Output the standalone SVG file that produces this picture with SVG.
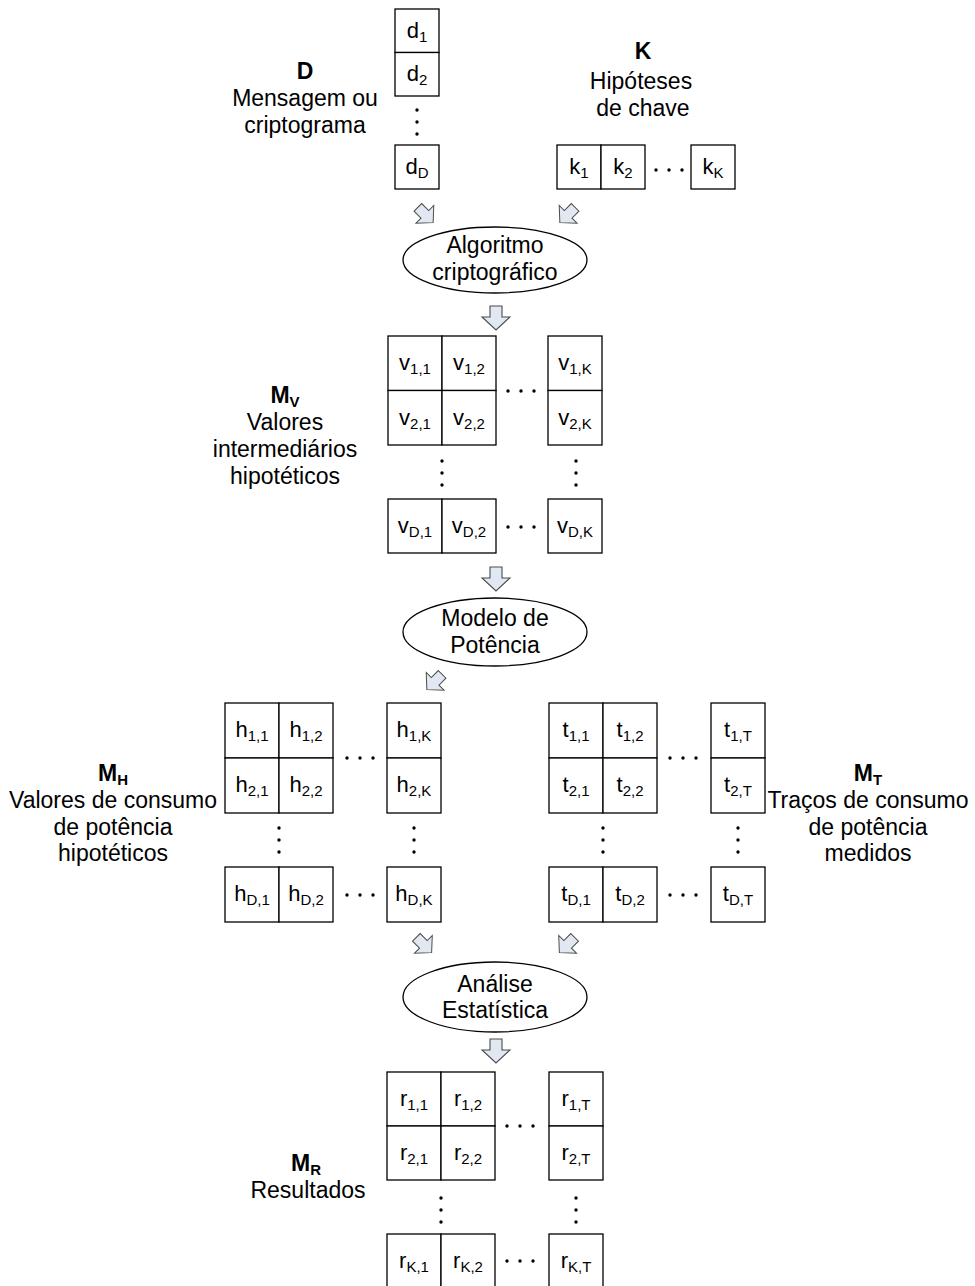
<svg xmlns="http://www.w3.org/2000/svg" width="975" height="1286" viewBox="0 0 975 1286">
<style>
text{font-family:"Liberation Sans",Arial,sans-serif;fill:#000}
.lbl{font-size:23px;text-anchor:middle}
.b{font-weight:bold}
.bs{font-weight:bold;font-size:15px}
.c{font-size:22px;text-anchor:middle}
.s{font-size:15px}
.box{fill:#fff;stroke:#000;stroke-width:1.3}
.ell{fill:#fff;stroke:#000;stroke-width:1.3}
.arr{fill:#e2e8f2;stroke:#4a4a4a;stroke-width:1.1;stroke-linejoin:miter}
.dot{fill:#000}
</style>
<defs>
<path id="ar" d="M-6,-12 H6 V-1 H14 L0,12 L-14,-1 H-6 Z"/>
<g id="vd"><circle cx="0" cy="-12" r="1.7"/><circle cx="0" cy="0" r="1.7"/><circle cx="0" cy="12" r="1.7"/></g>
<g id="hd"><circle cx="-13" cy="0" r="1.7"/><circle cx="0" cy="0" r="1.7"/><circle cx="13" cy="0" r="1.7"/></g>
</defs>

<g id="connectors">
<use href="#ar" class="arr" transform="translate(425.5,215) rotate(-45) scale(0.9)"/>
<use href="#ar" class="arr" transform="translate(567.5,215) rotate(45) scale(0.9)"/>
<use href="#ar" class="arr" transform="translate(496,318)"/>
<use href="#ar" class="arr" transform="translate(496,579)"/>
<use href="#ar" class="arr" transform="translate(434.5,682) rotate(45) scale(0.9)"/>
<use href="#ar" class="arr" transform="translate(424,945) rotate(-45) scale(0.9)"/>
<use href="#ar" class="arr" transform="translate(567,945) rotate(45) scale(0.9)"/>
<use href="#ar" class="arr" transform="translate(496,1051)"/>
</g>

<g id="D">
<text class="lbl b" x="305" y="79">D</text>
<text class="lbl" x="305" y="106">Mensagem ou</text>
<text class="lbl" x="305" y="133">criptograma</text>
<rect class="box" x="395" y="9" width="44" height="43.5"/>
<rect class="box" x="395" y="52.5" width="44" height="43.5"/>
<rect class="box" x="395" y="145" width="44" height="44"/>
<text class="c" x="417" y="38">d<tspan class="s" dy="4">1</tspan></text>
<text class="c" x="417" y="81">d<tspan class="s" dy="4">2</tspan></text>
<text class="c" x="417" y="174">d<tspan class="s" dy="4">D</tspan></text>
<use href="#vd" class="dot" x="417" y="122"/>
</g>

<g id="K">
<text class="lbl b" x="643" y="59">K</text>
<text class="lbl" x="641" y="89">Hipóteses</text>
<text class="lbl" x="643" y="116">de chave</text>
<rect class="box" x="557" y="145" width="44" height="44"/>
<rect class="box" x="601" y="145" width="44" height="44"/>
<rect class="box" x="691" y="145" width="44" height="44"/>
<text class="c" x="579" y="174">k<tspan class="s" dy="4">1</tspan></text>
<text class="c" x="623" y="174">k<tspan class="s" dy="4">2</tspan></text>
<text class="c" x="713" y="174">k<tspan class="s" dy="4">K</tspan></text>
<use href="#hd" class="dot" x="669" y="170"/>
</g>

<g id="alg">
<ellipse class="ell" cx="495" cy="260" rx="92" ry="33"/>
<text class="lbl" x="495" y="253">Algoritmo</text>
<text class="lbl" x="495" y="280">criptográfico</text>
</g>

<g id="MV">
<text class="lbl b" x="285" y="403">M<tspan class="bs" dy="4">V</tspan></text>
<text class="lbl" x="285" y="430">Valores</text>
<text class="lbl" x="285" y="457">intermediários</text>
<text class="lbl" x="285" y="484">hipotéticos</text>
<rect class="box" x="388" y="336" width="54" height="54.5"/>
<rect class="box" x="442" y="336" width="54" height="54.5"/>
<rect class="box" x="388" y="390.5" width="54" height="54.5"/>
<rect class="box" x="442" y="390.5" width="54" height="54.5"/>
<rect class="box" x="548" y="336" width="54" height="54.5"/>
<rect class="box" x="548" y="390.5" width="54" height="54.5"/>
<rect class="box" x="388" y="499" width="54" height="54"/>
<rect class="box" x="442" y="499" width="54" height="54"/>
<rect class="box" x="548" y="499" width="54" height="54"/>
<text class="c" x="415" y="370">v<tspan class="s" dy="4">1,1</tspan></text>
<text class="c" x="469" y="370">v<tspan class="s" dy="4">1,2</tspan></text>
<text class="c" x="575" y="370">v<tspan class="s" dy="4">1,K</tspan></text>
<text class="c" x="415" y="425">v<tspan class="s" dy="4">2,1</tspan></text>
<text class="c" x="469" y="425">v<tspan class="s" dy="4">2,2</tspan></text>
<text class="c" x="575" y="425">v<tspan class="s" dy="4">2,K</tspan></text>
<text class="c" x="415" y="533">v<tspan class="s" dy="4">D,1</tspan></text>
<text class="c" x="469" y="533">v<tspan class="s" dy="4">D,2</tspan></text>
<text class="c" x="575" y="533">v<tspan class="s" dy="4">D,K</tspan></text>
<use href="#hd" class="dot" x="521" y="391"/>
<use href="#hd" class="dot" x="521" y="527"/>
<use href="#vd" class="dot" x="442" y="473"/>
<use href="#vd" class="dot" x="576" y="473"/>
</g>

<g id="modelo">
<ellipse class="ell" cx="495" cy="632" rx="92" ry="34"/>
<text class="lbl" x="495" y="626">Modelo de</text>
<text class="lbl" x="495" y="653">Potência</text>
</g>

<g id="MH">
<text class="lbl b" x="113" y="781">M<tspan class="bs" dy="4">H</tspan></text>
<text class="lbl" x="113" y="808">Valores de consumo</text>
<text class="lbl" x="113" y="835">de potência</text>
<text class="lbl" x="113" y="861">hipotéticos</text>
<rect class="box" x="225" y="703" width="54" height="55"/>
<rect class="box" x="279" y="703" width="54" height="55"/>
<rect class="box" x="225" y="758" width="54" height="55"/>
<rect class="box" x="279" y="758" width="54" height="55"/>
<rect class="box" x="387" y="703" width="54" height="55"/>
<rect class="box" x="387" y="758" width="54" height="55"/>
<rect class="box" x="225" y="867" width="54" height="55"/>
<rect class="box" x="279" y="867" width="54" height="55"/>
<rect class="box" x="387" y="867" width="54" height="55"/>
<text class="c" x="252" y="737">h<tspan class="s" dy="4">1,1</tspan></text>
<text class="c" x="306" y="737">h<tspan class="s" dy="4">1,2</tspan></text>
<text class="c" x="414" y="737">h<tspan class="s" dy="4">1,K</tspan></text>
<text class="c" x="252" y="792">h<tspan class="s" dy="4">2,1</tspan></text>
<text class="c" x="306" y="792">h<tspan class="s" dy="4">2,2</tspan></text>
<text class="c" x="414" y="792">h<tspan class="s" dy="4">2,K</tspan></text>
<text class="c" x="252" y="901">h<tspan class="s" dy="4">D,1</tspan></text>
<text class="c" x="306" y="901">h<tspan class="s" dy="4">D,2</tspan></text>
<text class="c" x="414" y="901">h<tspan class="s" dy="4">D,K</tspan></text>
<use href="#hd" class="dot" x="360" y="758"/>
<use href="#hd" class="dot" x="360" y="895"/>
<use href="#vd" class="dot" x="279" y="840"/>
<use href="#vd" class="dot" x="414" y="840"/>
</g>

<g id="MT">
<text class="lbl b" x="868" y="781">M<tspan class="bs" dy="4">T</tspan></text>
<text class="lbl" x="868" y="808">Traços de consumo</text>
<text class="lbl" x="868" y="835">de potência</text>
<text class="lbl" x="868" y="861">medidos</text>
<rect class="box" x="549" y="703" width="54" height="55"/>
<rect class="box" x="603" y="703" width="54" height="55"/>
<rect class="box" x="549" y="758" width="54" height="55"/>
<rect class="box" x="603" y="758" width="54" height="55"/>
<rect class="box" x="711" y="703" width="54" height="55"/>
<rect class="box" x="711" y="758" width="54" height="55"/>
<rect class="box" x="549" y="867" width="54" height="55"/>
<rect class="box" x="603" y="867" width="54" height="55"/>
<rect class="box" x="711" y="867" width="54" height="55"/>
<text class="c" x="576" y="737">t<tspan class="s" dy="4">1,1</tspan></text>
<text class="c" x="630" y="737">t<tspan class="s" dy="4">1,2</tspan></text>
<text class="c" x="738" y="737">t<tspan class="s" dy="4">1,T</tspan></text>
<text class="c" x="576" y="792">t<tspan class="s" dy="4">2,1</tspan></text>
<text class="c" x="630" y="792">t<tspan class="s" dy="4">2,2</tspan></text>
<text class="c" x="738" y="792">t<tspan class="s" dy="4">2,T</tspan></text>
<text class="c" x="576" y="901">t<tspan class="s" dy="4">D,1</tspan></text>
<text class="c" x="630" y="901">t<tspan class="s" dy="4">D,2</tspan></text>
<text class="c" x="738" y="901">t<tspan class="s" dy="4">D,T</tspan></text>
<use href="#hd" class="dot" x="683" y="758"/>
<use href="#hd" class="dot" x="683" y="895"/>
<use href="#vd" class="dot" x="603" y="840"/>
<use href="#vd" class="dot" x="738" y="840"/>
</g>

<g id="analise">
<ellipse class="ell" cx="495" cy="997" rx="92" ry="35"/>
<text class="lbl" x="495" y="992">Análise</text>
<text class="lbl" x="495" y="1018">Estatística</text>
</g>

<g id="MR">
<text class="lbl b" x="306" y="1171">M<tspan class="bs" dy="4">R</tspan></text>
<text class="lbl" x="308" y="1198">Resultados</text>
<rect class="box" x="387" y="1072" width="54" height="54"/>
<rect class="box" x="441" y="1072" width="54" height="54"/>
<rect class="box" x="387" y="1126" width="54" height="54"/>
<rect class="box" x="441" y="1126" width="54" height="54"/>
<rect class="box" x="549" y="1072" width="54" height="54"/>
<rect class="box" x="549" y="1126" width="54" height="54"/>
<rect class="box" x="387" y="1234" width="54" height="54"/>
<rect class="box" x="441" y="1234" width="54" height="54"/>
<rect class="box" x="549" y="1234" width="54" height="54"/>
<text class="c" x="414" y="1106">r<tspan class="s" dy="4">1,1</tspan></text>
<text class="c" x="468" y="1106">r<tspan class="s" dy="4">1,2</tspan></text>
<text class="c" x="576" y="1106">r<tspan class="s" dy="4">1,T</tspan></text>
<text class="c" x="414" y="1160">r<tspan class="s" dy="4">2,1</tspan></text>
<text class="c" x="468" y="1160">r<tspan class="s" dy="4">2,2</tspan></text>
<text class="c" x="576" y="1160">r<tspan class="s" dy="4">2,T</tspan></text>
<text class="c" x="414" y="1268">r<tspan class="s" dy="4">K,1</tspan></text>
<text class="c" x="468" y="1268">r<tspan class="s" dy="4">K,2</tspan></text>
<text class="c" x="576" y="1268">r<tspan class="s" dy="4">K,T</tspan></text>
<use href="#hd" class="dot" x="520" y="1126"/>
<use href="#hd" class="dot" x="520" y="1261"/>
<use href="#vd" class="dot" x="441" y="1210"/>
<use href="#vd" class="dot" x="576" y="1210"/>
</g>
</svg>
